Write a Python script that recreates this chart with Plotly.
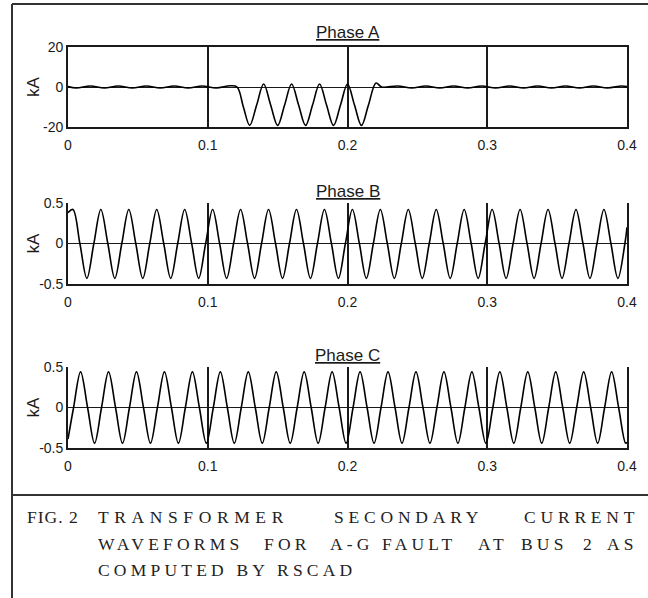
import plotly.graph_objects as go

# ---------------- data ----------------
x_ticks = [0, 0.1, 0.2, 0.3, 0.4]
x_ticklabels = ["0", "0.1", "0.2", "0.3", "0.4"]
ya_ticks = [-20, 0, 20]
ya_ticklabels = ["-20", "0", "20"]
ybc_ticks = [-0.5, 0, 0.5]
ybc_ticklabels = ["-0.5", "0", "0.5"]

titles = ["Phase A", "Phase B", "Phase C"]

# Phase A (kA): small pre-fault ripple, fault pulses 0.12-0.225 s, small post-fault ripple
t_a = [0.0, 0.006, 0.016, 0.026, 0.036, 0.046, 0.056, 0.066, 0.076, 0.086,
       0.096, 0.106, 0.116, 0.121,
       0.1255, 0.130, 0.135, 0.140, 0.145, 0.150, 0.155, 0.160, 0.165, 0.170,
       0.175, 0.180, 0.185, 0.190, 0.195, 0.200, 0.205, 0.210, 0.215, 0.2204,
       0.2245, 0.236, 0.246, 0.256, 0.266, 0.276, 0.286, 0.296, 0.306, 0.316,
       0.326, 0.336, 0.346, 0.356, 0.366, 0.376, 0.386, 0.396, 0.4]
i_a = [0.2, -0.5, 0.5, -0.5, 0.5, -0.5, 0.5, -0.5, 0.5, -0.5,
       0.5, -0.5, 0.6, 0.0,
       -10.0, -19.2, -9.0, 1.5, -9.0, -19.2, -9.0, 1.5, -9.0, -19.2,
       -9.0, 1.5, -9.0, -19.2, -9.0, 1.5, -9.0, -19.2, -9.0, 2.0,
       0.0, 0.5, -0.5, 0.5, -0.5, 0.5, -0.5, 0.5, -0.5, 0.5,
       -0.5, 0.5, -0.5, 0.5, -0.5, 0.5, -0.5, 0.5, 0.2]

# Phase B (kA): peaks, zero crossings and troughs
t_b = [0.0,
       0.0035, 0.0085, 0.0135, 0.0185, 0.0235, 0.0285, 0.0335, 0.0385,
       0.0435, 0.0485, 0.0535, 0.0585, 0.0635, 0.0685, 0.0735, 0.0785,
       0.0835, 0.0885, 0.0935, 0.0985, 0.1035, 0.1085, 0.1135, 0.1185,
       0.1235, 0.1285, 0.1335, 0.1385, 0.1435, 0.1485, 0.1535, 0.1585,
       0.1635, 0.1685, 0.1735, 0.1785, 0.1835, 0.1885, 0.1935, 0.1985,
       0.2035, 0.2085, 0.2135, 0.2185, 0.2235, 0.2285, 0.2335, 0.2385,
       0.2435, 0.2485, 0.2535, 0.2585, 0.2635, 0.2685, 0.2735, 0.2785,
       0.2835, 0.2885, 0.2935, 0.2985, 0.3035, 0.3085, 0.3135, 0.3185,
       0.3235, 0.3285, 0.3335, 0.3385, 0.3435, 0.3485, 0.3535, 0.3585,
       0.3635, 0.3685, 0.3735, 0.3785, 0.3835, 0.3885, 0.3935, 0.3985,
       0.4]
i_b = [0.38,
       0.42, 0.0, -0.43, 0.0, 0.42, 0.0, -0.43, 0.0,
       0.42, 0.0, -0.43, 0.0, 0.42, 0.0, -0.43, 0.0,
       0.42, 0.0, -0.43, 0.0, 0.42, 0.0, -0.43, 0.0,
       0.42, 0.0, -0.43, 0.0, 0.42, 0.0, -0.43, 0.0,
       0.42, 0.0, -0.43, 0.0, 0.42, 0.0, -0.43, 0.0,
       0.42, 0.0, -0.43, 0.0, 0.42, 0.0, -0.43, 0.0,
       0.42, 0.0, -0.43, 0.0, 0.42, 0.0, -0.43, 0.0,
       0.42, 0.0, -0.43, 0.0, 0.42, 0.0, -0.43, 0.0,
       0.42, 0.0, -0.43, 0.0, 0.42, 0.0, -0.43, 0.0,
       0.42, 0.0, -0.43, 0.0, 0.42, 0.0, -0.43, 0.0,
       0.2]

# Phase C (kA)
t_c = [0.0,
       0.004, 0.009, 0.014, 0.019, 0.024, 0.029, 0.034, 0.039,
       0.044, 0.049, 0.054, 0.059, 0.064, 0.069, 0.074, 0.079,
       0.084, 0.089, 0.094, 0.099, 0.104, 0.109, 0.114, 0.119,
       0.124, 0.129, 0.134, 0.139, 0.144, 0.149, 0.154, 0.159,
       0.164, 0.169, 0.174, 0.179, 0.184, 0.189, 0.194, 0.199,
       0.204, 0.209, 0.214, 0.219, 0.224, 0.229, 0.234, 0.239,
       0.244, 0.249, 0.254, 0.259, 0.264, 0.269, 0.274, 0.279,
       0.284, 0.289, 0.294, 0.299, 0.304, 0.309, 0.314, 0.319,
       0.324, 0.329, 0.334, 0.339, 0.344, 0.349, 0.354, 0.359,
       0.364, 0.369, 0.374, 0.379, 0.384, 0.389, 0.394, 0.399,
       0.4]
i_c = [-0.39,
       0.0, 0.44, 0.0, -0.44, 0.0, 0.44, 0.0, -0.44,
       0.0, 0.44, 0.0, -0.44, 0.0, 0.44, 0.0, -0.44,
       0.0, 0.44, 0.0, -0.44, 0.0, 0.44, 0.0, -0.44,
       0.0, 0.44, 0.0, -0.44, 0.0, 0.44, 0.0, -0.44,
       0.0, 0.44, 0.0, -0.44, 0.0, 0.44, 0.0, -0.44,
       0.0, 0.44, 0.0, -0.44, 0.0, 0.44, 0.0, -0.44,
       0.0, 0.44, 0.0, -0.44, 0.0, 0.44, 0.0, -0.44,
       0.0, 0.44, 0.0, -0.44, 0.0, 0.44, 0.0, -0.44,
       0.0, 0.44, 0.0, -0.44, 0.0, 0.44, 0.0, -0.44,
       0.0, 0.44, 0.0, -0.44, 0.0, 0.44, 0.0, -0.44,
       -0.43]

# caption words: (text, x position, anchor, letter spacing)
caption_lines = [
    [("FIG. 2", 27, "left", 1), ("TRANSFORMER", 98, "left", 5.6),
     ("SECONDARY", 334, "left", 4.8), ("CURRENT", 643, "right", 4.8)],
    [("WAVEFORMS", 98, "left", 4.2), ("FOR", 264, "left", 4.2), ("A-G", 330, "left", 4.2),
     ("FAULT", 382, "left", 4.2), ("AT", 478, "left", 4.2), ("BUS", 521, "left", 4.2),
     ("2", 583, "left", 4.2), ("AS", 642, "right", 4.2)],
    [("COMPUTED BY RSCAD", 98, "left", 4.2)],
]
caption_y = [517, 544, 570]

# ---------------- layout helpers ----------------
W, H = 648, 598
def px_x(p): return p / W
def px_y(p): return 1 - p / H

SANS = "Liberation Sans, Arial, sans-serif"
SERIF = "Liberation Serif, Times New Roman, serif"
INK = "#1a1a1a"

panels = [
    dict(t=t_a, v=i_a, top=47, bot=127, yr=[-20, 20], tv=ya_ticks, tt=ya_ticklabels, box=True),
    dict(t=t_b, v=i_b, top=203, bot=284, yr=[-0.5, 0.5], tv=ybc_ticks, tt=ybc_ticklabels, box=False),
    dict(t=t_c, v=i_c, top=367, bot=448, yr=[-0.5, 0.5], tv=ybc_ticks, tt=ybc_ticklabels, box=False),
]
title_y = [33, 191, 355]

fig = go.Figure()
layout = dict(width=W, height=H, autosize=False,
              margin=dict(l=0, r=0, t=0, b=0, pad=0, autoexpand=False),
              template="none",
              paper_bgcolor="white", plot_bgcolor="white", showlegend=False)

x0, x1 = 68, 627
annotations = []
for k, p in enumerate(panels):
    n = "" if k == 0 else str(k + 1)
    xa, ya = "x" + n, "y" + n
    fig.add_trace(go.Scatter(x=p["t"], y=p["v"], mode="lines", xaxis=xa, yaxis=ya,
                             line=dict(color="black", width=1.6, shape="spline", smoothing=1.0),
                             hoverinfo="skip"))
    layout["xaxis" + n] = dict(domain=[px_x(x0), px_x(x1)], range=[0, 0.4], anchor=ya,
                               automargin=False,
                               tickvals=x_ticks, ticktext=x_ticklabels, ticks="",
                               ticklabelstandoff=4,
                               showgrid=True, gridcolor=INK, gridwidth=1.8,
                               showline=True, linecolor=INK, linewidth=1.8,
                               mirror=p["box"], zeroline=False,
                               tickfont=dict(family=SANS, size=14, color=INK))
    layout["yaxis" + n] = dict(domain=[px_y(p["bot"]), px_y(p["top"])], range=p["yr"],
                               anchor=xa, automargin=False,
                               tickvals=p["tv"], ticktext=p["tt"], ticks="",
                               ticklabelstandoff=0,
                               showgrid=False, zeroline=True, zerolinecolor=INK,
                               zerolinewidth=1.2, showline=True, linecolor=INK,
                               linewidth=1.8, mirror=True,
                               tickfont=dict(family=SANS, size=14, color=INK))
    annotations.append(dict(x=px_x((x0 + x1) / 2), y=px_y(title_y[k]), xref="paper", yref="paper",
                            text=titles[k], showarrow=False, xanchor="center", yanchor="middle",
                            font=dict(family=SANS, size=17, color=INK, lineposition="under")))
    annotations.append(dict(x=px_x(33), y=px_y((p["top"] + p["bot"]) / 2), xref="paper", yref="paper",
                            text="kA", textangle=-90, showarrow=False,
                            xanchor="center", yanchor="middle",
                            font=dict(family=SANS, size=17, color=INK)))

for line, yy in zip(caption_lines, caption_y):
    for word, xx, anc, ls in line:
        annotations.append(dict(x=px_x(xx), y=px_y(yy), xref="paper", yref="paper",
                                text=f"<span style='letter-spacing:{ls}px'>{word}</span>",
                                showarrow=False, xanchor=anc, yanchor="middle",
                                xshift=-2,
                                font=dict(family=SERIF, size=17.5, color="#222222")))

layout["annotations"] = annotations
layout["shapes"] = [
    dict(type="line", xref="paper", yref="paper", x0=px_x(12), x1=px_x(12), y0=0, y1=px_y(4),
         line=dict(color="#333333", width=2)),
    dict(type="line", xref="paper", yref="paper", x0=px_x(12), x1=1, y0=px_y(4), y1=px_y(4),
         line=dict(color="#333333", width=2)),
    dict(type="line", xref="paper", yref="paper", x0=px_x(12), x1=1, y0=px_y(495), y1=px_y(495),
         line=dict(color="#333333", width=2)),
]
fig.update_layout(**layout)
fig.write_html(
    "out.html",
    config={"displayModeBar": False, "responsive": False},
    post_script=(
        "var s='html,body{margin:0!important;padding:0!important;overflow:hidden!important;"
        "width:648px;height:598px}';"
        "var e=document.createElement('style');e.textContent=s;document.head.appendChild(e);"
    ),
)
